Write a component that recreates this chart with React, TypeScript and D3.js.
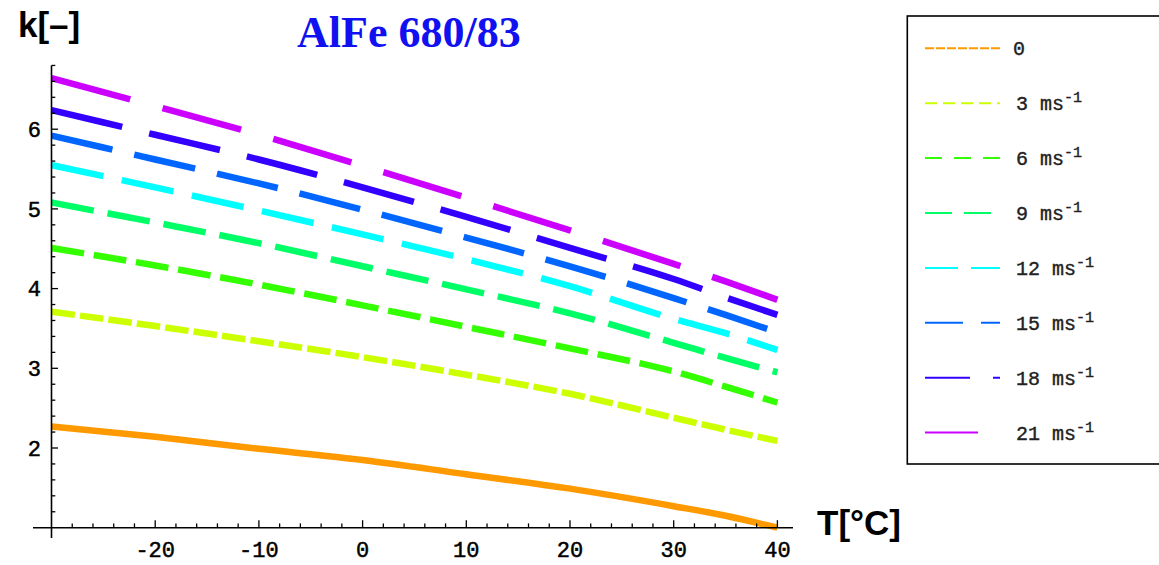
import React from "react";
import * as d3 from "d3";

// ---- data ----
const temps = [-30, -20, -10, 0, 10, 20, 30, 35, 40];
const speedLabels = ["0", "3", "6", "9", "12", "15", "18", "21"];
const k0 = [2.27, 2.14, 1.99, 1.85, 1.67, 1.49, 1.27, 1.15, 1.0];
const k3 = [3.71, 3.53, 3.34, 3.14, 2.92, 2.68, 2.38, 2.23, 2.09];
const k6 = [4.51, 4.29, 4.05, 3.79, 3.52, 3.25, 2.96, 2.77, 2.57];
const k9 = [5.08, 4.83, 4.57, 4.28, 3.99, 3.69, 3.32, 3.13, 2.95];
const k12 = [5.55, 5.27, 4.98, 4.68, 4.37, 4.03, 3.62, 3.44, 3.23];
const k15 = [5.92, 5.62, 5.32, 4.99, 4.64, 4.28, 3.88, 3.67, 3.45];
const k18 = [6.24, 5.93, 5.62, 5.27, 4.9, 4.51, 4.12, 3.89, 3.67];
const k21 = [6.64, 6.29, 5.93, 5.54, 5.14, 4.73, 4.31, 4.09, 3.86];
const xTickValues = [-20, -10, 0, 10, 20, 30, 40];
const yTickValues = [2, 3, 4, 5, 6];

const seriesValues = [k0, k3, k6, k9, k12, k15, k18, k21];

// ---- styles ----
const colors = ["#FF9900", "#CCFF00", "#33FF00", "#00FF66", "#00FFFF", "#0066FF", "#3300FF", "#CC00FF"];
const plotDash = ["none", "23.6 5.1", "33 9.8", "43 14", "53 18.8", "62.5 22.4", "72.7 27.7", "81.5 33.5"];
const legendDash = ["9 2", "12 6", "17 12", "27 12", "33 13", "38 18", "45 23", "53 25"];

export default function App() {
  const W = 1159, H = 565;
  const x = d3.scaleLinear().domain([-30, 40]).range([51.5, 777.4]);
  const y = d3.scaleLinear().domain([1, 6]).range([527.7, 129.2]);

  const line = d3
    .line<[number, number]>()
    .x((d) => x(d[0]))
    .y((d) => y(d[1]))
    .curve(d3.curveMonotoneX);

  const minorX = d3.range(-28, 40.01, 2).filter((v) => Math.abs(v % 10) > 0.01);
  const minorY = d3.range(1.2, 6.81, 0.2).filter((v) => Math.abs(v - Math.round(v)) > 0.01);

  const mono = "'Liberation Mono', 'Courier New', monospace";
  const legendRowY = (i: number) => 48.3 + i * 54.9;

  return (
    <svg width={W} height={H} style={{ position: "absolute", left: 0, top: 0, background: "#fff" }}>
      <rect x={0} y={0} width={W} height={H} fill="#fff" />
      {/* series */}
      {seriesValues.map((vals, i) => (
        <path
          key={i}
          d={line(temps.map((t, j) => [t, vals[j]]) as [number, number][]) || ""}
          fill="none"
          stroke={colors[i]}
          strokeWidth={6.5}
          strokeDasharray={plotDash[i]}
          strokeLinecap="butt"
          strokeLinejoin="round"
        />
      ))}

      {/* axes */}
      <line x1={33} x2={793} y1={y(1)} y2={y(1)} stroke="#000" strokeWidth={1.6} />
      <line x1={x(-30)} x2={x(-30)} y1={y(6.8)} y2={538} stroke="#000" strokeWidth={1.6} />
      {xTickValues.map((v) => (
        <g key={"xt" + v}>
          <line x1={x(v)} x2={x(v)} y1={y(1)} y2={y(1) - 7.5} stroke="#000" strokeWidth={1.3} />
          <text x={x(v)} y={557} textAnchor="middle" fontFamily={mono} fontSize={22} fill="#000" stroke="#000" strokeWidth={0.5}>
            {v < 0 ? "-" + Math.abs(v) : String(v)}
          </text>
        </g>
      ))}
      {minorX.map((v) => (
        <line key={"xm" + v} x1={x(v)} x2={x(v)} y1={y(1)} y2={y(1) - 4.3} stroke="#000" strokeWidth={1.3} />
      ))}
      {yTickValues.map((v) => (
        <g key={"yt" + v}>
          <line x1={x(-30)} x2={x(-30) + 6.5} y1={y(v)} y2={y(v)} stroke="#000" strokeWidth={1.3} />
          <text x={41} y={y(v)} dy="0.35em" textAnchor="end" fontFamily={mono} fontSize={22} fill="#000" stroke="#000" strokeWidth={0.5}>
            {v}
          </text>
        </g>
      ))}
      {minorY.map((v) => (
        <line key={"ym" + v.toFixed(1)} x1={x(-30)} x2={x(-30) + 3.8} y1={y(v)} y2={y(v)} stroke="#000" strokeWidth={1.3} />
      ))}

      {/* axis labels */}
      <text x={18} y={37} fontFamily="'Liberation Sans', Arial, sans-serif" fontWeight="bold" fontSize={35} fill="#000">
        k[–]
      </text>
      <text x={817} y={535} fontFamily="'Liberation Sans', Arial, sans-serif" fontWeight="bold" fontSize={35} fill="#000">
        T[°C]
      </text>

      {/* title */}
      <text x={297} y={47} fontFamily="'Liberation Serif', 'Times New Roman', serif" fontWeight="bold" fontSize={44} fill="#1010F0">
        AlFe 680/83
      </text>

      {/* legend */}
      <rect x={907.3} y={16} width={262} height={448} fill="#fff" stroke="#000" strokeWidth={1.6} />
      {speedLabels.map((lab, i) => (
        <g key={"lg" + i}>
          <line
            x1={925}
            x2={1000}
            y1={legendRowY(i)}
            y2={legendRowY(i)}
            stroke={colors[i]}
            strokeWidth={2}
            strokeDasharray={legendDash[i]}
          />
          <text
            x={i === 0 ? 1013 : 1016}
            y={legendRowY(i) + 7}
            fontFamily={mono}
            fontSize={20}
            fill="#222"
            stroke="#222"
            strokeWidth={0.4}
          >
            {lab}
            {i > 0 ? " ms" : ""}
            {i > 0 ? (
              <tspan dy={-8} fontSize={15}>
                -1
              </tspan>
            ) : null}
          </text>
        </g>
      ))}
    </svg>
  );
}
